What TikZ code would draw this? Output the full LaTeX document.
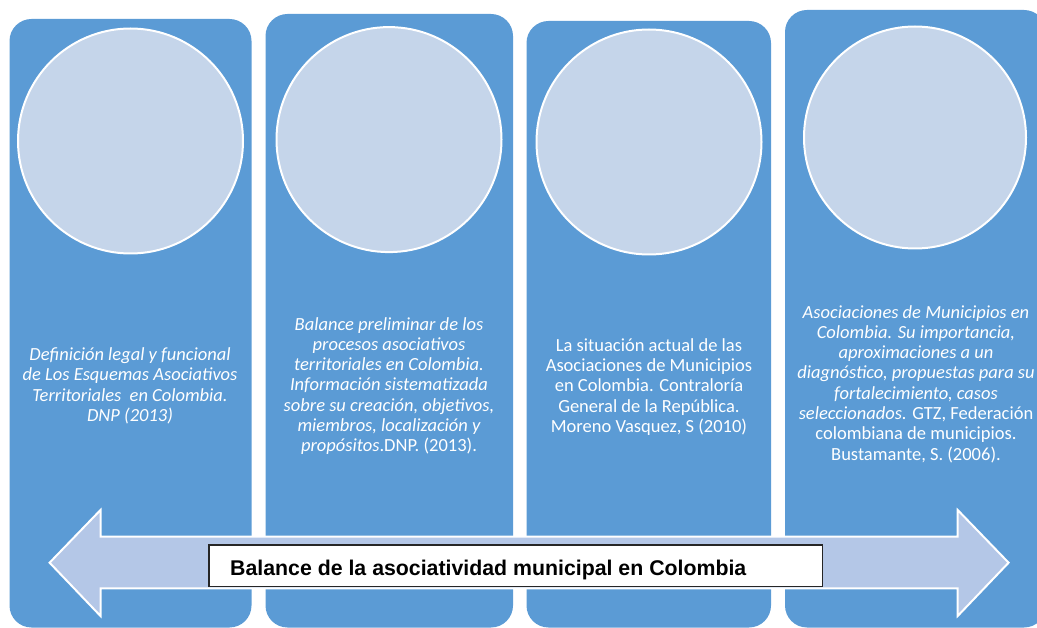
\documentclass[tikz,border=0pt]{standalone}
\usepackage{fontspec}
\usepackage{tikz}
\newfontfamily\calfont{Carlito}
\newfontfamily\arialfont{Liberation Sans}
\definecolor{panelblue}{HTML}{5B9BD5}
\definecolor{discfill}{HTML}{C5D5EA}
\definecolor{arrowfill}{HTML}{B4C7E7}

\begin{document}
\begin{tikzpicture}
[
x=1pt, y=-1pt,
panel/.style={rectangle, rounded corners=22pt, fill=panelblue, inner sep=0pt},
disc/.style={circle, draw=white, line width=2pt, fill=discfill, minimum size=225pt, inner sep=0pt},
paneltext/.style={align=center, text=white, inner sep=0pt, font=\calfont\fontsize{18.5}{20.3}\selectfont},
bigarrow/.style={draw=white, line width=2pt, fill=arrowfill, line join=miter},
labelbox/.style={rectangle, draw=black!85, line width=1.2pt, fill=white, inner sep=0pt}
]
\useasboundingbox (0,0) rectangle (1037,628);
\clip (0,0) rectangle (1037,628);

\node[panel, minimum width=242pt, minimum height=608.5pt] (panel1) at (130.5,323.25) {};
\node[panel, minimum width=247.5pt, minimum height=613.5pt] (panel2) at (389.25,320.75) {};
\node[panel, minimum width=244.5pt, minimum height=606.5pt] (panel3) at (648.75,324.25) {};
\node[panel, minimum width=261pt, minimum height=617.5pt] (panel4) at (915.5,318.75) {};

\node[disc] (disc1) at (130.5,141) {};
\node[disc] (disc2) at (389,139.6) {};
\node[disc] (disc3) at (649,142) {};
\node[disc, minimum size=222pt] (disc4) at (915,137.5) {};

\node[paneltext] (text1) at (130,386) {\itshape Definición legal y funcional\\ \itshape de Los Esquemas Asociativos\\ \itshape Territoriales\ \ en Colombia.\\ \itshape DNP (2013)};
\node[paneltext] (text2) at (389,386) {\itshape Balance preliminar de los\\ \itshape procesos asociativos\\ \itshape territoriales en Colombia.\\ \itshape Información sistematizada\\ \itshape sobre su creación, objetivos,\\ \itshape miembros, localización y\\ {\itshape propósitos}.DNP. (2013).};
\node[paneltext] (text3) at (649,387) {La situación actual de las\\ Asociaciones de Municipios\\ en Colombia. Contraloría\\ General de la República.\\ Moreno Vasquez, S (2010)};
\node[paneltext] (text4) at (916,384) {\itshape Asociaciones de Municipios en\\ \itshape Colombia. Su importancia,\\ \itshape aproximaciones a un\\ \itshape diagnóstico, propuestas para su\\ \itshape fortalecimiento, casos\\ {\itshape seleccionados.} GTZ, Federación\\ colombiana de municipios.\\ Bustamante, S. (2006).};

\draw[bigarrow] (49.6,562.7) -- (100.5,510) -- (100.5,536.7) -- (957.7,536.7) -- (957.7,510) -- (1008.6,562.7) -- (957.7,616) -- (957.7,588.3) -- (100.5,588.3) -- (100.5,616) -- cycle;

\node[labelbox, minimum width=613.7pt, minimum height=41.7pt] (labelbox) at (515.85,565.85) {};
\node[anchor=base west, inner sep=0pt, font=\arialfont\bfseries\fontsize{21.3}{24}\selectfont] (label) at (230,575.7) {Balance de la asociatividad municipal en Colombia};
\end{tikzpicture}
\end{document}
